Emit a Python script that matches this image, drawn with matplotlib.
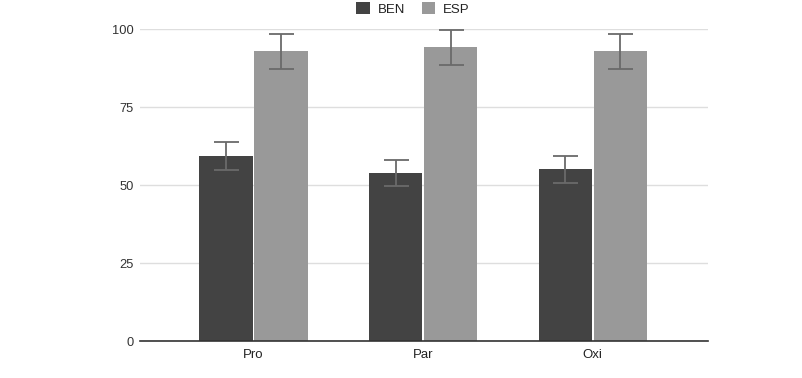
import numpy as np
import matplotlib
matplotlib.use("Agg")
import matplotlib.pyplot as plt
from matplotlib.patches import Patch

plt.rcParams['font.family'] = ['Liberation Sans', 'DejaVu Sans']

# data
categories = ["Pro", "Par", "Oxi"]
ben_values = [59.3, 53.9, 55.0]
ben_errors = [4.6, 4.2, 4.3]
esp_values = [92.8, 94.1, 92.8]
esp_errors = [5.6, 5.6, 5.6]
y_ticks = [0, 25, 50, 75, 100]

ben_color = "#434343"
esp_color = "#999999"

fig = plt.figure(figsize=(8.03, 3.78), dpi=100)
ax = fig.add_axes([140 / 803, 37 / 378, 568 / 803, 312 / 378])

x = np.arange(len(categories))
width = 0.315
gap = 0.005

err_style = dict(ecolor="#6a6a6a", elinewidth=1.3, capsize=9, capthick=1.3)
ax.bar(x - width / 2 - gap, ben_values, width, color=ben_color, zorder=3,
       yerr=ben_errors, error_kw=dict(err_style, zorder=4), label="BEN")
ax.bar(x + width / 2 + gap, esp_values, width, color=esp_color, zorder=3,
       yerr=esp_errors, error_kw=dict(err_style, zorder=4), label="ESP")

ax.set_xlim(-0.669, 2.679)
ax.set_ylim(0, 100)
ax.set_xticks(x)
ax.set_xticklabels(categories)
ax.set_yticks(y_ticks)

ax.grid(axis="y", color="#dedede", linewidth=1, zorder=0)
for s in ["top", "right", "left"]:
    ax.spines[s].set_visible(False)
ax.spines["bottom"].set_color("#333333")
ax.spines["bottom"].set_linewidth(1.2)
ax.spines["bottom"].set_zorder(5)

ax.tick_params(axis="y", length=0, pad=4.5, labelsize=9.3, labelcolor="#333333")
ax.tick_params(axis="x", length=0, pad=6, labelsize=9.5, labelcolor="#222222")

for t in ax.get_yticklabels() + ax.get_xticklabels():
    t.set_clip_on(False)

handles = [Patch(facecolor=ben_color, label="BEN"), Patch(facecolor=esp_color, label="ESP")]
fig.legend(handles=handles, loc="center", bbox_to_anchor=(413 / 803, 1 - 9 / 378),
           ncol=2, frameon=False, fontsize=9.5, handlelength=1.0, handleheight=1.0,
           handletextpad=0.6, columnspacing=1.3, labelcolor="#222222")

fig.savefig("out.png", dpi=100)
